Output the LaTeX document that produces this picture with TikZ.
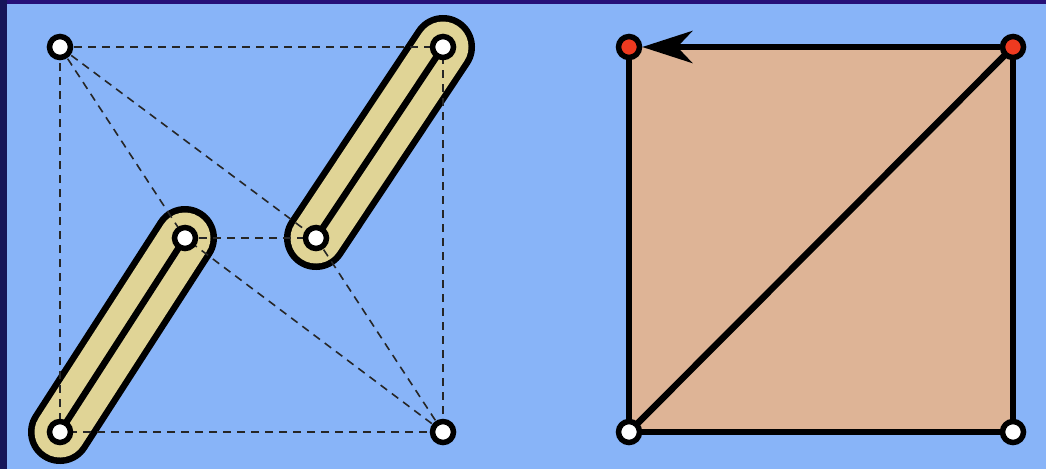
\documentclass[tikz,border=0pt]{standalone}
\usetikzlibrary{arrows.meta}
\definecolor{frame}{RGB}{38,16,120}
\definecolor{frameL}{RGB}{22,22,90}
\definecolor{panel}{RGB}{136,180,248}
\definecolor{khaki}{RGB}{224,212,150}
\definecolor{tan}{RGB}{222,180,150}
\definecolor{redv}{RGB}{238,58,32}
\tikzset{
  vert/.style={circle,draw=black,line width=5.5pt,fill=white,inner sep=0pt,minimum size=21pt},
  redvert/.style={vert,fill=redv},
  dashedline/.style={draw=black!85,line width=1.6pt,dash pattern=on 8pt off 6pt},
  capout/.style={line width=64pt,line cap=round,draw=black},
  capin/.style={line width=51pt,line cap=round,draw=khaki},
  solidedge/.style={line width=6.5pt,draw=black},
}
\begin{document}
\begin{tikzpicture}[x=1pt,y=-1pt]
\useasboundingbox (0,0) rectangle (1046,469);
\fill[frame] (0,0) rectangle (1046,469);
\fill[frameL] (0,0) rectangle (7,469);
\fill[panel] (7,4) rectangle (1046,469);
% left picture coordinates
\coordinate (a) at (60,47);
\coordinate (b) at (443,47);
\coordinate (c) at (60,432);
\coordinate (d) at (443,432);
\coordinate (e) at (185,238);
\coordinate (f) at (316,238);
% capsules
\draw[capout] (c) -- (e);
\draw[capout] (f) -- (b);
\draw[capin] (c) -- (e);
\draw[capin] (f) -- (b);
% dashed edges
\draw[dashedline] (a) -- (b) -- (d) -- (c) -- cycle;
\draw[dashedline] (e) -- (f);
\draw[dashedline] (a) -- (e);
\draw[dashedline] (a) -- (f);
\draw[dashedline] (d) -- (e);
\draw[dashedline] (d) -- (f);
% inner solid lines
\draw[solidedge] (c) -- (e);
\draw[solidedge] (f) -- (b);
% vertices
\node[vert] (na) at (a) {};
\node[vert] (nb) at (b) {};
\node[vert] (nc) at (c) {};
\node[vert] (nd) at (d) {};
\node[vert] (ne) at (e) {};
\node[vert] (nf) at (f) {};
% right picture
\coordinate (p) at (629,47);
\coordinate (q) at (1013,47);
\coordinate (r) at (629,432);
\coordinate (s) at (1013,432);
\fill[tan] (p) rectangle (s);
\draw[solidedge] (q) -- (s) -- (r) -- (p);
\draw[solidedge] (r) -- (q);
\node[redvert] (np) at (p) {};
\node[redvert] (nq) at (q) {};
\node[vert] (nr) at (r) {};
\node[vert] (ns) at (s) {};
\draw[solidedge,-{Stealth[length=50pt,width=32pt,inset=15pt]}] (nq) -- (np);
\end{tikzpicture}
\end{document}
